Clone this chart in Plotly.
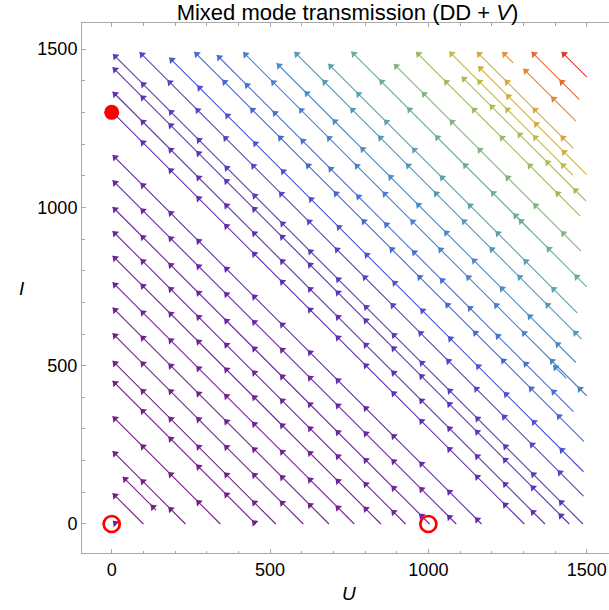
import plotly.graph_objects as go
from plotly.colors import sample_colorscale

# ---- Streamlines: arrow tip (upper-left end) and tail (lower-right end), data units
tip_U = [4, 88, 182, 261, 332, 415, 521, 577, 684, 757, 891, 961, 1105, 1066, 1157, 1153, 1233, 1300, 1326, 1421,
         1394, 1268,
         3, 3, 3, 3, 3, 3, 3, 3, 3, 3, 3, 3, 3, 3, 3, 35, 3, 4]
tip_I = [1484, 1490, 1473, 1491, 1481, 1490, 1455, 1491, 1453, 1492, 1453, 1491, 1413, 1492, 1446, 1491, 1491, 1438, 1491, 1491,
         502, 981,
         1442, 1365, 1300, 1165, 1085, 1001, 925, 847, 763, 683, 602, 515, 452, 340, 230, 149, 97, 10]
tail_U = [1488, 1490, 1490, 1491, 1458, 1500, 1466, 1484, 1470, 1500, 1482, 1479, 1498, 1456, 1500, 1458, 1268, 1466, 1477, 1500,
          1436, 1321,
          1445, 1368, 1303, 1168, 1088, 1004, 928, 850, 766, 686, 605, 518, 455, 343, 233, 140, 100, 14]
tail_I = [0, 88, 165, 261, 355, 405, 510, 584, 667, 749, 862, 973, 1020, 1102, 1103, 1186, 1456, 1272, 1340, 1412,
          460, 928,
          0, 0, 0, 0, 0, 0, 0, 0, 0, 0, 0, 0, 0, 0, 0, 44, 0, 0]
# relative flow speed of each streamline (colour level 0..1)
speed = [0.16, 0.20, 0.24, 0.29, 0.32, 0.36, 0.40, 0.44, 0.48, 0.53, 0.58, 0.64, 0.68, 0.71, 0.75, 0.77, 0.83, 0.85, 0.90, 0.97,
         0.36, 0.53,
         0.14, 0.12, 0.11, 0.09, 0.08, 0.07, 0.06, 0.05, 0.04, 0.03, 0.02, 0.015, 0.01, 0.0, 0.0, 0.0, 0.0, 0.0]

# fixed points
fixed_U = [0, 0, 1000]
fixed_I = [1300, 0, 0]
fixed_stable = [True, False, False]

tick_vals = [0, 500, 1000, 1500]

rainbow = [[0.0, 'rgb(120,28,134)'], [0.12, 'rgb(98,45,178)'], [0.25, 'rgb(70,88,208)'],
           [0.38, 'rgb(72,135,205)'], [0.5, 'rgb(95,168,165)'], [0.62, 'rgb(145,185,105)'],
           [0.72, 'rgb(200,185,70)'], [0.82, 'rgb(228,150,55)'], [0.92, 'rgb(228,95,50)'],
           [1.0, 'rgb(220,35,40)']]
colors = sample_colorscale(rainbow, speed)

fig = go.Figure()

arrow_x, arrow_y, arrow_c = [], [], []
SPACING = 88.0     # distance between arrowheads along a streamline (data units of U)
BACK = 7.5         # shift so the arrow apex sits on the point
for tu, ti, lu, li, col in zip(tip_U, tip_I, tail_U, tail_I, colors):
    fig.add_trace(go.Scatter(x=[lu, tu], y=[li, ti], mode='lines',
                             line=dict(color=col, width=1.1), hoverinfo='skip', showlegend=False))
    du, di = lu - tu, li - ti
    length = abs(du)
    k = 0
    while k * SPACING <= max(length - 12, 0):
        s = (k * SPACING + BACK) / length if length > 0 else 0
        arrow_x.append(tu + du * s)
        arrow_y.append(ti + di * s)
        arrow_c.append(col)
        k += 1

fig.add_trace(go.Scatter(x=arrow_x, y=arrow_y, mode='markers',
                         marker=dict(symbol='triangle-up', size=7, angle=-45, color=arrow_c,
                                     line=dict(width=0)),
                         hoverinfo='skip', showlegend=False))

for u, i, st in zip(fixed_U, fixed_I, fixed_stable):
    if st:
        fig.add_trace(go.Scatter(x=[u], y=[i], mode='markers',
                                 marker=dict(symbol='circle', size=15, color='#ff0000', line=dict(width=0)),
                                 showlegend=False, hoverinfo='skip'))
    else:
        fig.add_trace(go.Scatter(x=[u], y=[i], mode='markers',
                                 marker=dict(symbol='circle-open', size=16, color='#ff0000',
                                             line=dict(width=2.7, color='#ff0000')),
                                 showlegend=False, hoverinfo='skip'))

axis_common = dict(showline=True, linecolor='#a9a9a9', linewidth=1, ticks='inside', ticklen=4,
                   tickcolor='#a9a9a9', tickwidth=1, tickvals=tick_vals, showgrid=False, zeroline=False,
                   tickfont=dict(family='Liberation Sans', size=18, color='#000000'),
                   minor=dict(tick0=0, dtick=100, ticks='inside', ticklen=2.5, tickcolor='#a9a9a9',
                              showgrid=False))

fig.update_layout(
    width=609, height=610,
    margin=dict(l=82, r=0, t=23, b=57),
    paper_bgcolor='white', plot_bgcolor='white',
    xaxis=dict(range=[-93.8, 1570.4], mirror='allticks', **axis_common),
    yaxis=dict(range=[-91.6, 1582.1], mirror=False, **axis_common),
    title=dict(text='Mixed mode transmission (DD + <i>V</i>)', x=0.5706, xref='container', xanchor='center',
               y=0.980, yref='container', yanchor='middle',
               font=dict(family='Liberation Sans', size=22, color='#000000')),
    annotations=[
        dict(text='<i>U</i>', x=750, xref='x', y=0, yref='paper', yshift=-40, yanchor='middle',
             showarrow=False, font=dict(family='Liberation Sans', size=19, color='#000000')),
        dict(text='<i>I</i>', x=-0.1139, xref='paper', xanchor='center', y=0.5, yref='paper', yanchor='middle',
             showarrow=False, font=dict(family='Liberation Sans', size=19, color='#000000')),
    ],
)

fig.write_html('out.html', config={'displayModeBar': False},
               post_script="document.body.style.margin='0';document.body.style.overflow='hidden';")
